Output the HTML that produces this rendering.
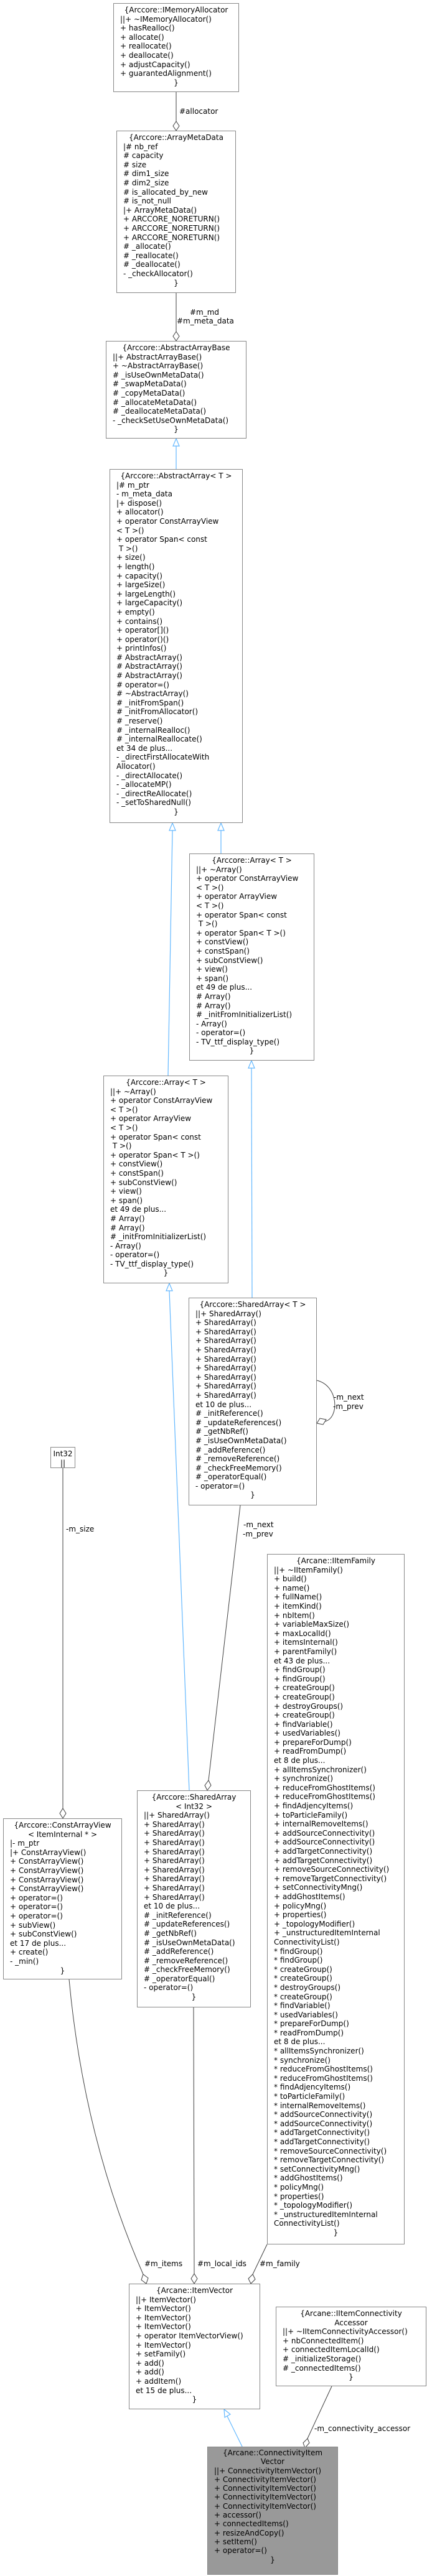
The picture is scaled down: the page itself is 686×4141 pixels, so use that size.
<!DOCTYPE html>
<html><head><meta charset="utf-8">
<style>
html,body{margin:0;padding:0;background:#fff;}
body{width:686px;height:4141px;position:relative;overflow:hidden;}
.b{position:absolute;border:1px solid #888;background:#fff;box-sizing:border-box;padding:3px 0 0 10px;font:12px/14.6px "DejaVu Sans","Liberation Sans",sans-serif;white-space:pre;color:#000;overflow:hidden;}
.b div{height:14.6px;}
.b .c{text-align:center;margin-left:-10px;}
svg{position:absolute;left:0;top:0;}
svg text{font:12px "DejaVu Sans","Liberation Sans",sans-serif;fill:#000;}
</style></head><body>
<svg width="686" height="4141" viewBox="0 0 686 4141">
<g stroke="#404040" stroke-width="1" fill="none">
<line x1="283" y1="148" x2="283" y2="195"/>
<line x1="283" y1="471" x2="283" y2="533"/>
<path d="M509,2219 C545,2228 545,2280 522,2285"/>
<line x1="386" y1="2420" x2="335" y2="2862"/>
<line x1="101" y1="2360" x2="101" y2="2907"/>
<path d="M111,3182 Q135,3440 230,3656"/>
<line x1="311" y1="3227" x2="312" y2="3655"/>
<line x1="429" y1="3608" x2="406" y2="3656"/>
<line x1="533" y1="3836" x2="494" y2="3920"/>
</g>
<g stroke="#404040" stroke-width="1" fill="#fff">
<polygon points="283,210 288,202.5 283,195 278,202.5"/>
<polygon points="283,548 288,540.5 283,533 278,540.5"/>
<polygon points="509,2288 514,2280 524,2282 519,2290"/>
<polygon points="333,2878 339,2870 335,2862 329,2870"/>
<polygon points="101,2923 106,2915 101,2907 96,2915"/>
<polygon points="235,3671 238,3662 230,3656 227,3665"/>
<polygon points="312,3671 317,3663 312,3655 307,3663"/>
<polygon points="403,3671 410,3664 406,3656 399,3663"/>
<polygon points="490,3935 497,3927 494,3920 487,3927"/>
</g>
<g stroke="#63b8ff" stroke-width="1.2" fill="none">
<line x1="283" y1="754" x2="283" y2="717"/>
<line x1="270" y1="1729" x2="277" y2="1335"/>
<line x1="355" y1="1372" x2="355" y2="1335"/>
<line x1="405" y1="2086" x2="404" y2="1717"/>
<line x1="304" y1="2878" x2="272" y2="2075"/>
<line x1="390" y1="3935" x2="365" y2="3884"/>
</g>
<g stroke="#63b8ff" stroke-width="1.2" fill="#fff">
<polygon points="283,705 288,717 278,717"/>
<polygon points="277,1323 282,1335 272,1335"/>
<polygon points="355,1323 360,1335 350,1335"/>
<polygon points="404,1705 409,1717 399,1717"/>
<polygon points="272,2063 277,2075 267,2075"/>
<polygon points="360,3873 370,3881 361,3886"/>
</g>
<text x="288" y="183">#allocator</text>
<text x="305" y="506">#m_md</text>
<text x="284" y="520">#m_meta_data</text>
<text x="536" y="2250">-m_next</text>
<text x="535" y="2265">-m_prev</text>
<text x="391" y="2455">-m_next</text>
<text x="390" y="2470">-m_prev</text>
<text x="106" y="2462">-m_size</text>
<text x="232" y="3643">#m_items</text>
<text x="317" y="3643">#m_local_ids</text>
<text x="417" y="3643">#m_family</text>
<text x="505" y="3908">-m_connectivity_accessor</text>
</svg>

<div class="b" style="left:182px;top:5px;width:202px;height:143px;"><div class="c">{Arccore::IMemoryAllocator</div><div>||+ ~IMemoryAllocator()</div><div>+ hasRealloc()</div><div>+ allocate()</div><div>+ reallocate()</div><div>+ deallocate()</div><div>+ adjustCapacity()</div><div>+ guarantedAlignment()</div><div class="c">}</div></div>

<div class="b" style="left:187px;top:210px;width:192px;height:261px;"><div class="c">{Arccore::ArrayMetaData</div><div>|# nb_ref</div><div># capacity</div><div># size</div><div># dim1_size</div><div># dim2_size</div><div># is_allocated_by_new</div><div># is_not_null</div><div>|+ ArrayMetaData()</div><div>+ ARCCORE_NORETURN()</div><div>+ ARCCORE_NORETURN()</div><div>+ ARCCORE_NORETURN()</div><div># _allocate()</div><div># _reallocate()</div><div># _deallocate()</div><div>- _checkAllocator()</div><div class="c">}</div></div>

<div class="b" style="left:170px;top:548px;width:226px;height:157px;"><div class="c">{Arccore::AbstractArrayBase</div><div>||+ AbstractArrayBase()</div><div>+ ~AbstractArrayBase()</div><div># _isUseOwnMetaData()</div><div># _swapMetaData()</div><div># _copyMetaData()</div><div># _allocateMetaData()</div><div># _deallocateMetaData()</div><div>- _checkSetUseOwnMetaData()</div><div class="c">}</div></div>

<div class="b" style="left:176px;top:754px;width:214px;height:569px;"><div class="c">{Arccore::AbstractArray&lt; T &gt;</div><div>|# m_ptr</div><div>- m_meta_data</div><div>|+ dispose()</div><div>+ allocator()</div><div>+ operator ConstArrayView</div><div>&lt; T &gt;()</div><div>+ operator Span&lt; const</div><div> T &gt;()</div><div>+ size()</div><div>+ length()</div><div>+ capacity()</div><div>+ largeSize()</div><div>+ largeLength()</div><div>+ largeCapacity()</div><div>+ empty()</div><div>+ contains()</div><div>+ operator[]()</div><div>+ operator()()</div><div>+ printInfos()</div><div># AbstractArray()</div><div># AbstractArray()</div><div># AbstractArray()</div><div># operator=()</div><div># ~AbstractArray()</div><div># _initFromSpan()</div><div># _initFromAllocator()</div><div># _reserve()</div><div># _internalRealloc()</div><div># _internalReallocate()</div><div>et 34 de plus...</div><div>- _directFirstAllocateWith</div><div>Allocator()</div><div>- _directAllocate()</div><div>- _allocateMP()</div><div>- _directReAllocate()</div><div>- _setToSharedNull()</div><div class="c">}</div></div>

<div class="b" style="left:304px;top:1372px;width:201px;height:333px;"><div class="c">{Arccore::Array&lt; T &gt;</div><div>||+ ~Array()</div><div>+ operator ConstArrayView</div><div>&lt; T &gt;()</div><div>+ operator ArrayView</div><div>&lt; T &gt;()</div><div>+ operator Span&lt; const</div><div> T &gt;()</div><div>+ operator Span&lt; T &gt;()</div><div>+ constView()</div><div>+ constSpan()</div><div>+ subConstView()</div><div>+ view()</div><div>+ span()</div><div>et 49 de plus...</div><div># Array()</div><div># Array()</div><div># _initFromInitializerList()</div><div>- Array()</div><div>- operator=()</div><div>- TV_ttf_display_type()</div><div class="c">}</div></div>

<div class="b" style="left:166px;top:1729px;width:201px;height:334px;"><div class="c">{Arccore::Array&lt; T &gt;</div><div>||+ ~Array()</div><div>+ operator ConstArrayView</div><div>&lt; T &gt;()</div><div>+ operator ArrayView</div><div>&lt; T &gt;()</div><div>+ operator Span&lt; const</div><div> T &gt;()</div><div>+ operator Span&lt; T &gt;()</div><div>+ constView()</div><div>+ constSpan()</div><div>+ subConstView()</div><div>+ view()</div><div>+ span()</div><div>et 49 de plus...</div><div># Array()</div><div># Array()</div><div># _initFromInitializerList()</div><div>- Array()</div><div>- operator=()</div><div>- TV_ttf_display_type()</div><div class="c">}</div></div>

<div class="b" style="left:303px;top:2086px;width:206px;height:334px;"><div class="c">{Arccore::SharedArray&lt; T &gt;</div><div>||+ SharedArray()</div><div>+ SharedArray()</div><div>+ SharedArray()</div><div>+ SharedArray()</div><div>+ SharedArray()</div><div>+ SharedArray()</div><div>+ SharedArray()</div><div>+ SharedArray()</div><div>+ SharedArray()</div><div>+ SharedArray()</div><div>et 10 de plus...</div><div># _initReference()</div><div># _updateReferences()</div><div># _getNbRef()</div><div># _isUseOwnMetaData()</div><div># _addReference()</div><div># _removeReference()</div><div># _checkFreeMemory()</div><div># _operatorEqual()</div><div>- operator=()</div><div class="c">}</div></div>

<div class="b" style="left:81px;top:2326px;width:40px;height:34px;padding-left:0;"><div style="text-align:center">Int32</div><div style="text-align:center">||</div></div>

<div class="b" style="left:5px;top:2923px;width:191px;height:259px;"><div class="c">{Arccore::ConstArrayView</div><div class="c">&lt; ItemInternal * &gt;</div><div>|- m_ptr</div><div>|+ ConstArrayView()</div><div>+ ConstArrayView()</div><div>+ ConstArrayView()</div><div>+ ConstArrayView()</div><div>+ ConstArrayView()</div><div>+ operator=()</div><div>+ operator=()</div><div>+ operator=()</div><div>+ subView()</div><div>+ subConstView()</div><div>et 17 de plus...</div><div>+ create()</div><div>- _min()</div><div class="c">}</div></div>

<div class="b" style="left:220px;top:2878px;width:183px;height:349px;"><div class="c">{Arccore::SharedArray</div><div class="c">&lt; Int32 &gt;</div><div>||+ SharedArray()</div><div>+ SharedArray()</div><div>+ SharedArray()</div><div>+ SharedArray()</div><div>+ SharedArray()</div><div>+ SharedArray()</div><div>+ SharedArray()</div><div>+ SharedArray()</div><div>+ SharedArray()</div><div>+ SharedArray()</div><div>et 10 de plus...</div><div># _initReference()</div><div># _updateReferences()</div><div># _getNbRef()</div><div># _isUseOwnMetaData()</div><div># _addReference()</div><div># _removeReference()</div><div># _checkFreeMemory()</div><div># _operatorEqual()</div><div>- operator=()</div><div class="c">}</div></div>

<div class="b" style="left:429px;top:2498px;width:221px;height:1110px;"><div class="c">{Arcane::IItemFamily</div><div>||+ ~IItemFamily()</div><div>+ build()</div><div>+ name()</div><div>+ fullName()</div><div>+ itemKind()</div><div>+ nbItem()</div><div>+ variableMaxSize()</div><div>+ maxLocalId()</div><div>+ itemsInternal()</div><div>+ parentFamily()</div><div>et 43 de plus...</div><div>+ findGroup()</div><div>+ findGroup()</div><div>+ createGroup()</div><div>+ createGroup()</div><div>+ destroyGroups()</div><div>+ createGroup()</div><div>+ findVariable()</div><div>+ usedVariables()</div><div>+ prepareForDump()</div><div>+ readFromDump()</div><div>et 8 de plus...</div><div>+ allItemsSynchronizer()</div><div>+ synchronize()</div><div>+ reduceFromGhostItems()</div><div>+ reduceFromGhostItems()</div><div>+ findAdjencyItems()</div><div>+ toParticleFamily()</div><div>+ internalRemoveItems()</div><div>+ addSourceConnectivity()</div><div>+ addSourceConnectivity()</div><div>+ addTargetConnectivity()</div><div>+ addTargetConnectivity()</div><div>+ removeSourceConnectivity()</div><div>+ removeTargetConnectivity()</div><div>+ setConnectivityMng()</div><div>+ addGhostItems()</div><div>+ policyMng()</div><div>+ properties()</div><div>+ _topologyModifier()</div><div>+ _unstructuredItemInternal</div><div>ConnectivityList()</div><div>* findGroup()</div><div>* findGroup()</div><div>* createGroup()</div><div>* createGroup()</div><div>* destroyGroups()</div><div>* createGroup()</div><div>* findVariable()</div><div>* usedVariables()</div><div>* prepareForDump()</div><div>* readFromDump()</div><div>et 8 de plus...</div><div>* allItemsSynchronizer()</div><div>* synchronize()</div><div>* reduceFromGhostItems()</div><div>* reduceFromGhostItems()</div><div>* findAdjencyItems()</div><div>* toParticleFamily()</div><div>* internalRemoveItems()</div><div>* addSourceConnectivity()</div><div>* addSourceConnectivity()</div><div>* addTargetConnectivity()</div><div>* addTargetConnectivity()</div><div>* removeSourceConnectivity()</div><div>* removeTargetConnectivity()</div><div>* setConnectivityMng()</div><div>* addGhostItems()</div><div>* policyMng()</div><div>* properties()</div><div>* _topologyModifier()</div><div>* _unstructuredItemInternal</div><div>ConnectivityList()</div><div class="c">}</div></div>

<div class="b" style="left:207px;top:3671px;width:211px;height:202px;"><div class="c">{Arcane::ItemVector</div><div>||+ ItemVector()</div><div>+ ItemVector()</div><div>+ ItemVector()</div><div>+ ItemVector()</div><div>+ operator ItemVectorView()</div><div>+ ItemVector()</div><div>+ setFamily()</div><div>+ add()</div><div>+ add()</div><div>+ addItem()</div><div>et 15 de plus...</div><div class="c">}</div></div>

<div class="b" style="left:443px;top:3708px;width:242px;height:128px;"><div class="c">{Arcane::IItemConnectivity</div><div class="c">Accessor</div><div>||+ ~IItemConnectivityAccessor()</div><div>+ nbConnectedItem()</div><div>+ connectedItemLocalId()</div><div># _initializeStorage()</div><div># _connectedItems()</div><div class="c">}</div></div>

<div class="b" style="left:333px;top:3933px;width:210px;height:206px;background:#999;padding-top:2px;line-height:14.3px;"><div class="c" style="height:14.3px">{Arcane::ConnectivityItem</div><div class="c" style="height:14.3px">Vector</div><div style="height:14.3px">||+ ConnectivityItemVector()</div><div style="height:14.3px">+ ConnectivityItemVector()</div><div style="height:14.3px">+ ConnectivityItemVector()</div><div style="height:14.3px">+ ConnectivityItemVector()</div><div style="height:14.3px">+ ConnectivityItemVector()</div><div style="height:14.3px">+ accessor()</div><div style="height:14.3px">+ connectedItems()</div><div style="height:14.3px">+ resizeAndCopy()</div><div style="height:14.3px">+ setItem()</div><div style="height:14.3px">+ operator=()</div><div class="c" style="height:14.3px">}</div></div>
</body></html>
